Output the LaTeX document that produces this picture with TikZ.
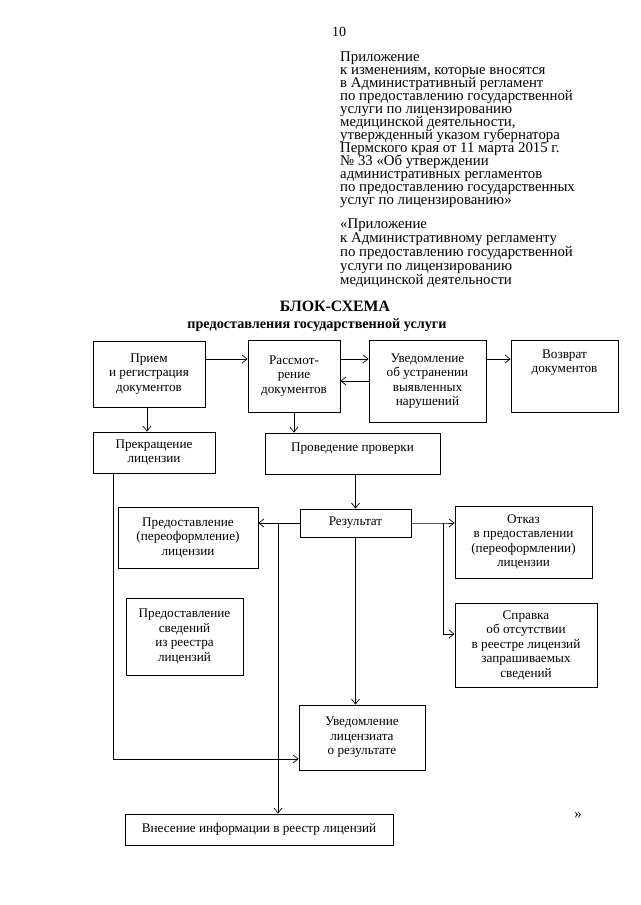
\documentclass[tikz,border=0pt]{standalone}
\usepackage{fontspec}
\setmainfont{Liberation Serif}
\usetikzlibrary{arrows.meta}
\setlength{\lineskiplimit}{-100pt}

\begin{document}
\begin{tikzpicture}[x=1pt, y=-1pt,
  blok/.style={draw, line width=0.8pt, align=center, inner sep=3pt,
    font=\fontsize{13.2}{14.5}\selectfont},
  strelka/.style={-{Straight Barb[length=5pt,width=8pt]}, line width=0.7pt}]
\useasboundingbox (0,0) rectangle (640,905);

% shapka
\node[font=\fontsize{14}{14}\selectfont] (nomer) at (339,32) {10};
\node[anchor=north west, align=left, inner sep=0pt, font=\fontsize{14.8}{13}\selectfont] (pril) at (340,52) {Приложение\\
к изменениям, которые вносятся\\
в Административный регламент\\
по предоставлению государственной\\
услуги по лицензированию\\
медицинской деятельности,\\
утвержденный указом губернатора\\
Пермского края от 11 марта 2015 г.\\
№ 33 «Об утверждении\\
административных регламентов\\
по предоставлению государственных\\
услуг по лицензированию»};
\node[anchor=north west, align=left, inner sep=0pt, font=\fontsize{14.8}{13.8}\selectfont] (pril2) at (340,219) {«Приложение\\
к Административному регламенту\\
по предоставлению государственной\\
услуги по лицензированию\\
медицинской деятельности};

\node[font=\bfseries\fontsize{15.8}{16}\selectfont] (zagol) at (335,306) {БЛОК-СХЕМА};
\node[font=\bfseries\fontsize{14.2}{15}\selectfont] (zagol2) at (317,325) {предоставления государственной услуги};

% bloki
\node[blok, minimum width=112pt, minimum height=66pt] (priem) at (149,374) {Прием\\и регистрация\\документов};
\node[blok, minimum width=92pt, minimum height=72pt] (rassm) at (294,376) {Рассмот-\\рение\\документов};
\node[blok, minimum width=117pt, minimum height=82pt] (uvedom) at (427.5,381) {Уведомление\\об устранении\\выявленных\\нарушений};
\node[blok, minimum width=107pt, minimum height=72pt, text width=100pt, text height=15pt, text depth=51pt] (vozvrat) at (564.5,376) {Возврат\\документов};
\node[blok, minimum width=122pt, minimum height=41pt] (prekr) at (154,452.5) {Прекращение\\лицензии};
\node[blok, minimum width=175pt, minimum height=41pt, text height=15pt, text depth=20pt] (proverka) at (352.5,453.5) {Проведение проверки};
\node[blok, minimum width=111pt, minimum height=28pt] (rezult) at (355.5,523) {Результат};
\node[blok, minimum width=140pt, minimum height=61pt] (predost) at (188,537.5) {Предоставление\\(переоформление)\\лицензии};
\node[blok, minimum width=117pt, minimum height=77pt] (svedenia) at (184.5,636.5) {Предоставление\\сведений\\из реестра\\лицензий};
\node[blok, minimum width=137pt, minimum height=72pt] (otkaz) at (523.5,542) {Отказ\\в предоставлении\\(переоформлении)\\лицензии};
\node[blok, minimum width=142pt, minimum height=84pt] (spravka) at (526,645) {Справка\\об отсутствии\\в реестре лицензий\\запрашиваемых\\сведений};
\node[blok, minimum width=126pt, minimum height=65pt] (uvlic) at (362,737.5) {Уведомление\\лицензиата\\о результате};
\node[blok, minimum width=268pt, minimum height=31pt] (vnesenie) at (259,829.5) {Внесение информации в реестр лицензий};

\node (kav) at (578,815) {\fontsize{15}{15}\selectfont »};

% vspomogatelnye tochki
\coordinate (y1) at (0,359);
\coordinate (y2) at (0,381);
\coordinate (y3) at (0,634);
\coordinate (y4) at (0,759);
\coordinate (x1) at (147,0);
\coordinate (x0) at (113,0);
\coordinate (razv) at (443,523);
\coordinate (vetv) at (278,523);

% strelki
\draw[strelka] (priem.east |- y1) -- (rassm.west |- y1);
\draw[strelka] (rassm.east |- y1) -- (uvedom.west |- y1);
\draw[strelka] (uvedom.west |- y2) -- (rassm.east |- y2);
\draw[strelka] (uvedom.east |- y1) -- (vozvrat.west |- y1);
\draw[strelka] (priem.south -| x1) -- (prekr.north -| x1);
\draw[strelka] (rassm.south) -- (proverka.north -| rassm.south);
\draw[strelka] (proverka.south -| rezult.north) -- (rezult.north);
\draw[strelka] (rezult.west) -- (predost.east |- rezult.west);
\draw[strelka] (rezult.east) -- (razv) -- (otkaz.west |- razv);
\draw[strelka] (razv) |- (spravka.west |- y3);
\draw[strelka] (rezult.south) -- (uvlic.north -| rezult.south);
\draw[strelka] (vetv) -- (vnesenie.north -| vetv);
\draw[strelka] (prekr.south -| x0) |- (uvlic.west |- y4);

\end{tikzpicture}
\end{document}
